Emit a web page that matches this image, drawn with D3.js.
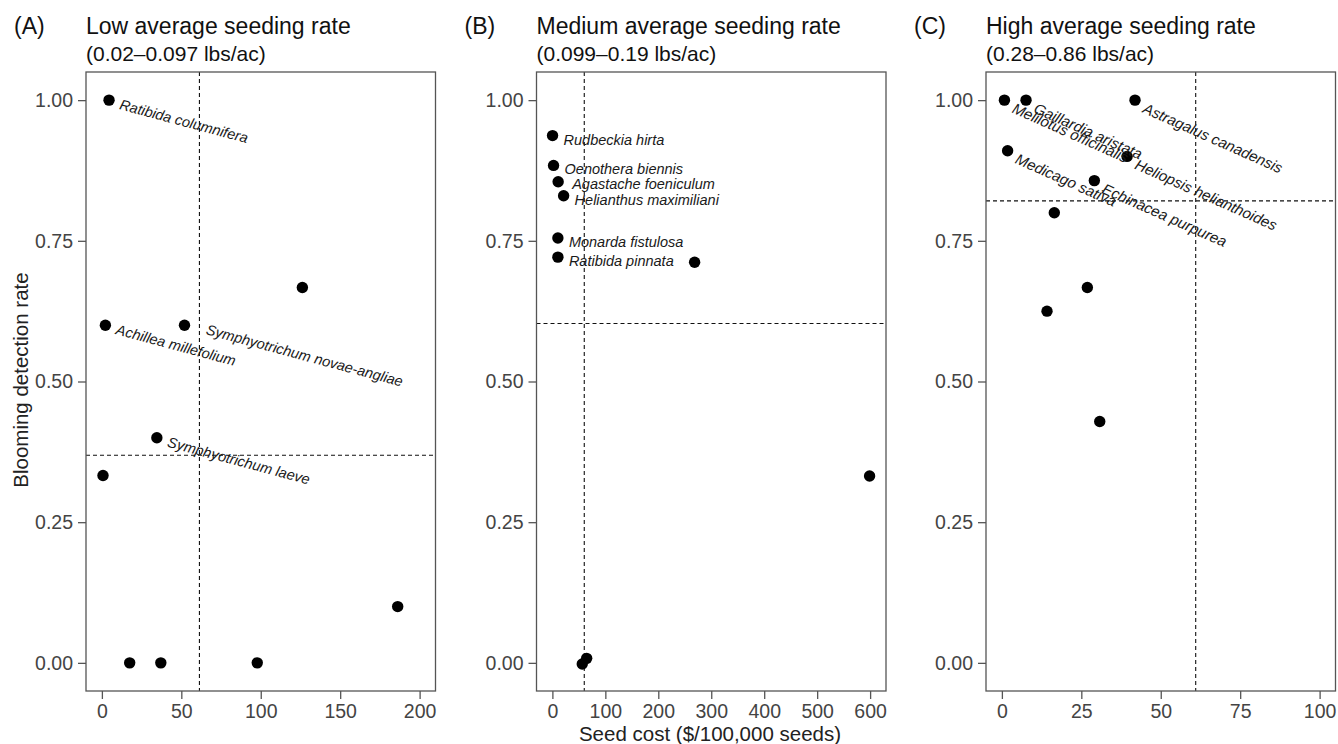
<!DOCTYPE html>
<html lang="en">
<head>
  <meta charset="UTF-8" />
  <title>Blooming detection vs seed cost</title>
  <script src="https://d3js.org/d3.v7.min.js"></script>
  <style>
    html, body { margin: 0; padding: 0; background: #fff; }
    svg { display: block; font-family: "Liberation Sans", Arial, sans-serif; }
    .box { fill: none; stroke: #555; stroke-width: 1.3px; }
    .tick line { stroke: #555; stroke-width: 1.3px; }
    .tick text { fill: #444; font-size: 19.5px; }
    .domain { display: none; }
    .cut { stroke: #111; stroke-width: 1.1px; stroke-dasharray: 4 3; fill: none; }
    .pt { fill: #000; }
    .sp { font-style: italic; fill: #1a1a1a; }
    .ttl { font-size: 23px; fill: #111; }
    .sub { font-size: 21px; fill: #111; }
    .axt { font-size: 20.5px; fill: #222; }
  </style>
</head>
<body>
  <svg id="chart" width="1338" height="744"></svg>

  <script>
    // ---- data ----
    const panelTags   = ['(A)', '(B)', '(C)'];
    const panelTitles = ['Low average seeding rate', 'Medium average seeding rate', 'High average seeding rate'];
    const panelRanges = ['(0.02\u20130.097 lbs/ac)', '(0.099\u20130.19 lbs/ac)', '(0.28\u20130.86 lbs/ac)'];

    const xMax     = [200, 600, 100];
    const xTicks   = [[0, 50, 100, 150, 200], [0, 100, 200, 300, 400, 500, 600], [0, 25, 50, 75, 100]];
    const yTicks   = [0, 0.25, 0.5, 0.75, 1];
    const costCut  = [61.4, 60.2, 61.0];   // vertical dashed line
    const rateCut  = [0.369, 0.603, 0.821]; // horizontal dashed line

    // (A) low seeding rate
    const lowCost  = [4.5, 126.2, 2.2, 52, 34.6, 0.7, 186.2, 17.5, 37.1, 97.8];
    const lowRate  = [1.0, 0.667, 0.6, 0.6, 0.4, 0.333, 0.1, 0, 0, 0];
    const lowName  = ['Ratibida columnifera', '', 'Achillea millefolium', 'Symphyotrichum novae-angliae',
                      'Symphyotrichum laeve', '', '', '', '', ''];

    // (B) medium seeding rate
    const medCost  = [0.3, 2.2, 10.9, 21.2, 10.4, 10.4, 268.6, 599, 56.4, 64.7];
    const medRate  = [0.937, 0.884, 0.855, 0.83, 0.755, 0.721, 0.712, 0.332, -0.002, 0.008];
    const medName  = ['Rudbeckia hirta', 'Oenothera biennis', 'Agastache foeniculum', 'Helianthus maximiliani',
                      'Monarda fistulosa', 'Ratibida pinnata', '', '', '', ''];

    // (C) high seeding rate
    const highCost = [0.8, 7.6, 41.9, 1.8, 39.4, 29.1, 16.5, 26.9, 14.2, 30.8];
    const highRate = [1.0, 1.0, 1.0, 0.91, 0.9, 0.857, 0.8, 0.667, 0.625, 0.429];
    const highName = ['Melilotus officinalis', 'Gaillardia aristata', 'Astragalus canadensis', 'Medicago sativa',
                      'Heliopsis helianthoides', 'Echinacea purpurea', '', '', '', ''];

    const costs = [lowCost, medCost, highCost];
    const rates = [lowRate, medRate, highRate];
    const names = [lowName, medName, highName];

    // ---- layout ----
    const svg = d3.select('#chart');
    const boxLeft = [86, 536.5, 986], boxW = 349.5, boxTop = 72, boxBottom = 691;
    const labelAngle = [15, 0, 24];
    const labelOff   = [[11, 4], [11, 4], [9, 7]];
    const labelSize  = [14.5, 14.5, 15];
    const nudge = { 'Symphyotrichum novae-angliae': [11, 0], 'Agastache foeniculum': [3, -2] };

    const y = d3.scaleLinear().domain([-0.05, 1.05]).range([boxBottom, boxTop]);

    panelTitles.forEach((title, i) => {
      const x = d3.scaleLinear().domain([-0.05 * xMax[i], 1.05 * xMax[i]]).range([boxLeft[i], boxLeft[i] + boxW]);
      const g = svg.append('g');

      g.append('text').attr('class', 'ttl').attr('x', boxLeft[i] - 72).attr('y', 34).text(panelTags[i]);
      g.append('text').attr('class', 'ttl').attr('x', boxLeft[i]).attr('y', 34).text(title);
      g.append('text').attr('class', 'sub').attr('x', boxLeft[i]).attr('y', 61).text(panelRanges[i]);

      g.append('g').attr('transform', `translate(0,${boxBottom})`)
        .call(d3.axisBottom(x).tickValues(xTicks[i]).tickFormat(d3.format('d')).tickSize(8).tickPadding(5));
      g.append('g').attr('transform', `translate(${boxLeft[i]},0)`)
        .call(d3.axisLeft(y).tickValues(yTicks).tickFormat(d3.format('.2f')).tickSize(8).tickPadding(5));

      // dashed cut-off lines
      g.append('line').attr('class', 'cut')
        .attr('x1', x(costCut[i])).attr('x2', x(costCut[i])).attr('y1', boxTop).attr('y2', boxBottom);
      g.append('line').attr('class', 'cut')
        .attr('x1', boxLeft[i]).attr('x2', boxLeft[i] + boxW).attr('y1', y(rateCut[i])).attr('y2', y(rateCut[i]));

      g.append('rect').attr('class', 'box')
        .attr('x', boxLeft[i]).attr('y', boxTop).attr('width', boxW).attr('height', boxBottom - boxTop);

      const pts = costs[i].map((c, k) => ({ c, r: rates[i][k], n: names[i][k] }));

      g.selectAll('circle').data(pts).join('circle').attr('class', 'pt')
        .attr('cx', d => x(d.c)).attr('cy', d => y(d.r)).attr('r', 5.7);

      g.selectAll('text.sp').data(pts.filter(d => d.n)).join('text').attr('class', 'sp')
        .attr('font-size', labelSize[i])
        .attr('dominant-baseline', 'central')
        .attr('transform', d => {
          const nd = nudge[d.n] || [0, 0];
          const ax = x(d.c) + labelOff[i][0] + nd[0], ay = y(d.r) + labelOff[i][1] + nd[1];
          return `translate(${ax},${ay}) rotate(${labelAngle[i]})`;
        })
        .text(d => d.n);
    });

    svg.append('text').attr('class', 'axt').attr('text-anchor', 'middle')
      .attr('transform', 'translate(28,380) rotate(-90)').text('Blooming detection rate');
    svg.append('text').attr('class', 'axt').attr('text-anchor', 'middle')
      .attr('x', 710).attr('y', 741).text('Seed cost ($/100,000 seeds)');
  </script>
</body>
</html>
